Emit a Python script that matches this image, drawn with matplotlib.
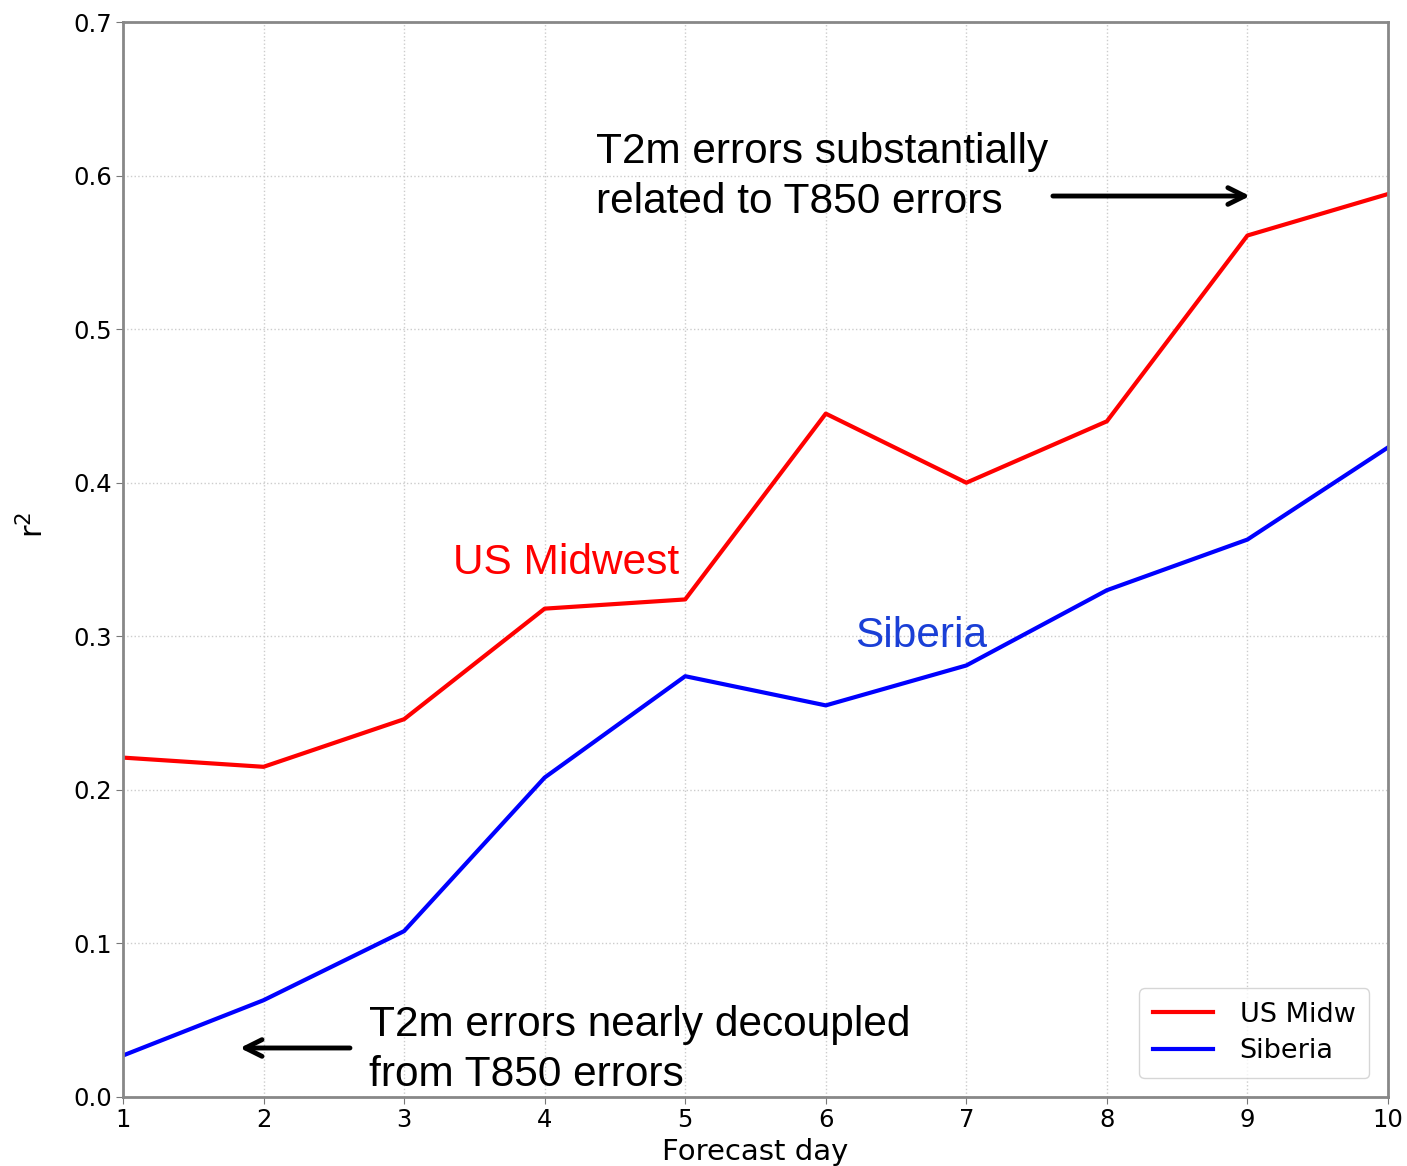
import matplotlib.pyplot as plt

days = [1, 2, 3, 4, 5, 6, 7, 8, 9, 10]
us_midwest = [0.221, 0.215, 0.246, 0.318, 0.324, 0.445, 0.400, 0.440, 0.561, 0.588]
siberia = [0.027, 0.063, 0.108, 0.208, 0.274, 0.255, 0.281, 0.330, 0.363, 0.423]

fig = plt.figure(figsize=(14.07, 11.66), dpi=100)
ax = fig.add_axes([0.0874, 0.0592, 0.8991, 0.9219])

ax.plot(days, us_midwest, color="red", lw=3, label="US Midw")
ax.plot(days, siberia, color="blue", lw=3, label="Siberia")

ax.set_xlim(1, 10)
ax.set_ylim(0, 0.7)
ax.set_xticks(days)
ax.set_yticks([0.0, 0.1, 0.2, 0.3, 0.4, 0.5, 0.6, 0.7])
ax.tick_params(labelsize=17.5, color="#777777", length=5, pad=3)
ax.grid(True, linestyle=":", color="#cccccc", lw=1)
for sp in ax.spines.values():
    sp.set_color("#888888")
    sp.set_linewidth(2)

ax.set_xlabel("Forecast day", fontsize=21, labelpad=4)
ax.set_ylabel("r$^2$", fontsize=22)
ax.yaxis.set_label_coords(-0.058, 0.532)

ax.legend(loc="lower right", fontsize=19.5, handlelength=2.2, borderpad=0.5,
          labelspacing=0.4, borderaxespad=0.7, handletextpad=1.0, fancybox=True)

txt = dict(fontsize=30.5, family="Liberation Sans", va="center", linespacing=1.3)
ax.text(4.365, 0.599, "T2m errors substantially\nrelated to T850 errors", **txt)
ax.text(2.75, 0.0306, "T2m errors nearly decoupled\nfrom T850 errors", **txt)
ax.text(3.35, 0.348, "US Midwest", color="red", fontsize=30.5, family="Liberation Sans", va="center")
ax.text(6.21, 0.300, "Siberia", color="#1a3fd6", fontsize=30.5, family="Liberation Sans", va="center")

arrow = dict(arrowstyle="->", lw=3.5, color="black", mutation_scale=30, shrinkA=0, shrinkB=0)
ax.annotate("", xy=(9.018, 0.5867), xytext=(7.616, 0.5867), arrowprops=arrow)
ax.annotate("", xy=(1.832, 0.0319), xytext=(2.615, 0.0319), arrowprops=arrow)

fig.savefig("out.png", dpi=100)
